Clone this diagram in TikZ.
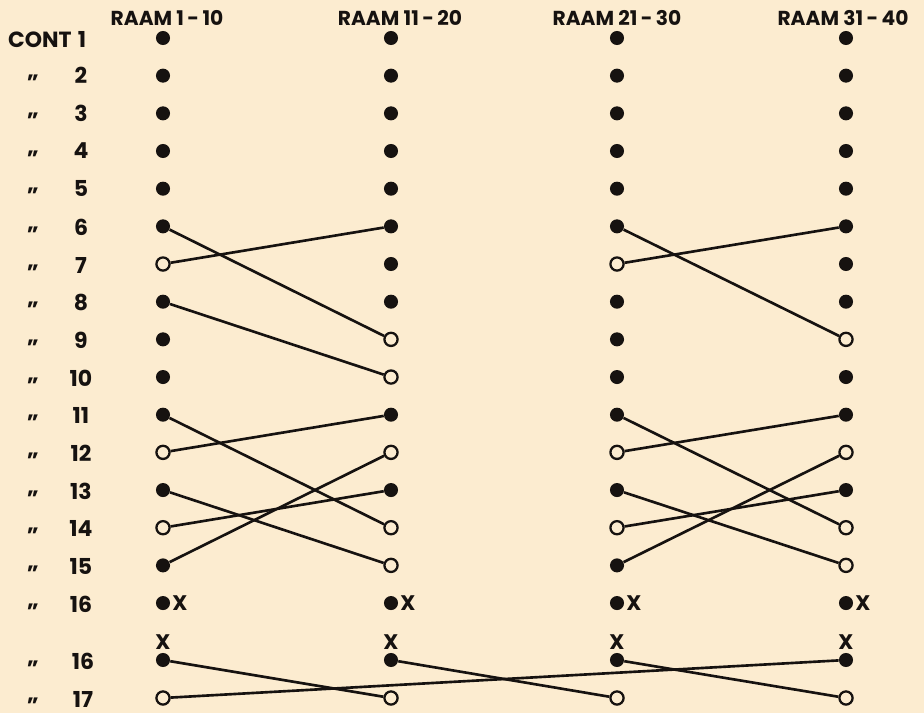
\documentclass[tikz,border=0pt]{standalone}
\usepackage{fontspec}
\setmainfont{Poppins}
\usepackage{xcolor}
\usepackage{tikz}
\definecolor{paper}{RGB}{252,236,208}
\definecolor{ink}{RGB}{22,18,16}
\tikzset{
    dotf/.style={circle, fill=ink, inner sep=0pt, minimum size=8},
    doto/.style={circle, draw=ink, fill=paper, line width=1.3, inner sep=0pt, minimum size=7.5},
    hdr/.style={font=\bfseries\fontsize{11.5}{13}\selectfont, text=ink},
    lbl/.style={font=\bfseries\fontsize{12.5}{14}\selectfont, text=ink},
    mk/.style={font=\bfseries\fontsize{12}{14}\selectfont, text=ink, inner sep=0pt},
    wire/.style={draw=ink, line width=1.5}
}

\begin{document}
\begin{tikzpicture}[x=0.02cm, y=-0.02cm]
    \fill[paper] (0,0) rectangle (924,713);
    \useasboundingbox (0,0) rectangle (924,713);

    % headers
    \node[hdr] (h1) at (167,18) {RAAM 1\,-\,10};
    \node[hdr] (h2) at (400,18) {RAAM 11\,-\,20};
    \node[hdr] (h3) at (617,18) {RAAM 21\,-\,30};
    \node[hdr] (h4) at (843,18) {RAAM 31\,-\,40};

    % row labels
    \node[lbl, anchor=west] (cont) at (2,40) {CONT};
    \node[lbl] (n1) at (82,39) {1};
    \foreach \r/\y in {2/75,3/113,4/151,5/188,6/227,7/265,8/302,9/340,10/378,11/415,12/453,13/491,14/528,15/566,16/604} {
        \node[lbl] (d\r) at (33,\y+3) {„};
        \node[lbl] (n\r) at (81,\y) {\r};
    }
    \node[lbl] (d16b) at (33,664) {„};
    \node[lbl] (n16b) at (83,661) {16};
    \node[lbl] (d17) at (33,701) {„};
    \node[lbl] (n17) at (83,699) {17};

    % filled and open contacts
    \foreach \c/\x/\rows in {1/163/{1,2,3,4,5,6,8,9,10,11,13,15,16},
                             2/391/{1,2,3,4,5,6,7,8,11,13,16},
                             3/617/{1,2,3,4,5,6,8,9,10,11,13,15,16},
                             4/846/{1,2,3,4,5,6,7,8,10,11,13,16}} {
        \foreach \r in \rows {
            \node[dotf] (c\c r\r) at (\x,{38+(\r-1)*37.67}) {};
        }
    }
    \foreach \c/\x/\rows in {1/163/{7,12,14},
                             2/391/{9,10,12,14,15},
                             3/617/{7,12,14},
                             4/846/{9,12,14,15}} {
        \foreach \r in \rows {
            \node[doto] (c\c r\r) at (\x,{38+(\r-1)*37.67}) {};
        }
    }
    \foreach \c/\x in {1/163,2/391,3/617,4/846} {
        \node[mk] (x\c a) at (\x+17,603) {X};
        \node[mk] (x\c b) at (\x,642) {X};
        \node[dotf] (c\c s) at (\x,660) {};
        \node[doto] (c\c t) at (\x,698) {};
    }

    % cross connections 1-10 / 11-20
    \draw[wire] (c1r6) -- (c2r9);
    \draw[wire] (c1r7) -- (c2r6);
    \draw[wire] (c1r8) -- (c2r10);
    \draw[wire] (c1r11) -- (c2r14);
    \draw[wire] (c1r12) -- (c2r11);
    \draw[wire] (c1r13) -- (c2r15);
    \draw[wire] (c1r14) -- (c2r13);
    \draw[wire] (c1r15) -- (c2r12);
    % cross connections 21-30 / 31-40
    \draw[wire] (c3r6) -- (c4r9);
    \draw[wire] (c3r7) -- (c4r6);
    \draw[wire] (c3r11) -- (c4r14);
    \draw[wire] (c3r12) -- (c4r11);
    \draw[wire] (c3r13) -- (c4r15);
    \draw[wire] (c3r14) -- (c4r13);
    \draw[wire] (c3r15) -- (c4r12);
    % bottom rows
    \draw[wire] (c1s) -- (c2t);
    \draw[wire] (c2s) -- (c3t);
    \draw[wire] (c3s) -- (c4t);
    \draw[wire] (c1t) -- (c4s);
\end{tikzpicture}
\end{document}
